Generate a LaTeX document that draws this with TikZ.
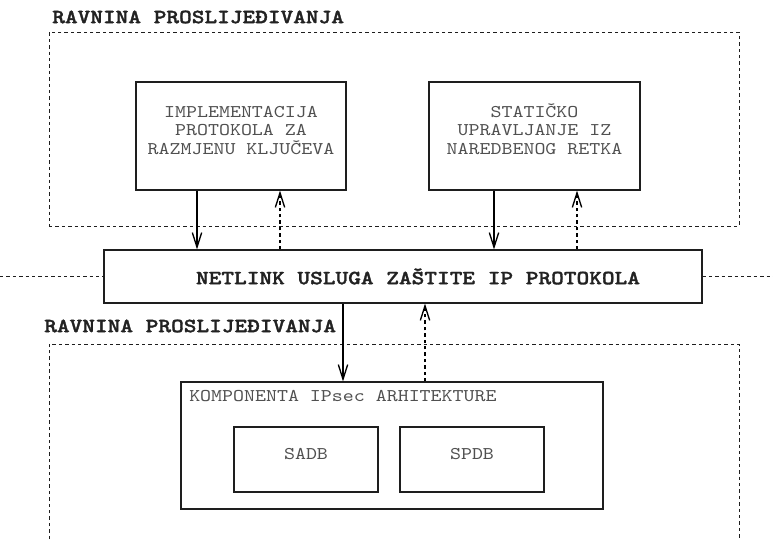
\documentclass[tikz,border=0pt]{standalone}
\usepackage{fontspec}
\newfontfamily\cour{lmmono10-regular}[Extension=.otf, FakeStretch=1.17]
\newfontfamily\courbf{lmmonolt10-bold}[Extension=.otf, FakeStretch=1.2, FakeBold=1.6]
\usetikzlibrary{arrows.meta,fit}
\definecolor{txtgray}{HTML}{505050}
\definecolor{lblcol}{HTML}{222222}
\definecolor{edgecol}{HTML}{1E1E1E}
\tikzset{
  box/.style={draw=edgecol, line width=0.8pt, inner sep=0pt, align=center,
    font=\cour\fontsize{13.4}{13.9}\selectfont, text=txtgray},
  planebox/.style={draw=edgecol, line width=0.7pt, inner sep=0pt,
    dash pattern=on 2.6pt off 2.2pt},
  planeline/.style={draw=edgecol, line width=0.7pt, dash pattern=on 2.6pt off 2.2pt},
  boldlbl/.style={font=\courbf\fontsize{15.1}{16}\selectfont, text=lblcol, inner sep=0pt},
  plainlbl/.style={font=\cour\fontsize{13.4}{13.9}\selectfont, text=txtgray, inner sep=0pt},
  tipV/.tip={Straight Barb[length=11pt,width=7pt,line width=1pt]},
  sarrow/.style={draw=black, line width=0.8pt, -tipV},
  darrow/.style={draw=black, line width=0.8pt, -tipV, dash pattern=on 2.6pt off 2.2pt},
}
\begin{document}
\begin{tikzpicture}[x=0.75pt,y=-0.75pt]
\useasboundingbox (0,0) rectangle (773,539);
% labels
\node[boldlbl, anchor=west] (lbltop) at (52,17) {RAVNINA PROSLIJEĐIVANJA};
\node[boldlbl, anchor=west] (lblbot) at (44,326) {RAVNINA PROSLIJEĐIVANJA};
% upper plane
\node[planebox, fit={(49,32) (739,226)}] (upper) {};
\node[box, fit={(136,82) (346,190)}] (b1) {IMPLEMENTACIJA\\PROTOKOLA ZA\\RAZMJENU KLJUČEVA};
\node[box, fit={(429,82) (640,190)}] (b2) {STATIČKO\\UPRAVLJANJE IZ\\NAREDBENOG RETKA};
% netlink
\node[box, fit={(104,250) (702,303)}] (net) {};
\node[boldlbl] (netlbl) at (418,276.5) {NETLINK USLUGA ZAŠTITE IP PROTOKOLA};
\coordinate (lend) at (0,276.5);
\coordinate (rend) at (773,276.5);
\draw[planeline] (lend) -- (net.west);
\draw[planeline] (net.east) -- (rend);
% lower plane (open at bottom)
\coordinate (lp1) at (49,539);
\coordinate (lp2) at (49,344);
\coordinate (lp3) at (739,344);
\coordinate (lp4) at (739,539);
\draw[planeline] (lp1) -- (lp2) -- (lp3) -- (lp4);
\node[box, fit={(181,382) (603,509)}] (comp) {};
\node[plainlbl, anchor=west] (complbl) at (189,396) {KOMPONENTA IPsec ARHITEKTURE};
\node[box, fit={(234,427) (378,492)}] (sadb) {SADB};
\node[box, fit={(400,427) (544,492)}] (spdb) {SPDB};
% arrows upper
\draw[sarrow] (197,0 |- b1.south) -- (197,0 |- net.north);
\draw[darrow] (280,0 |- net.north) -- (280,0 |- b1.south);
\draw[sarrow] (494,0 |- b2.south) -- (494,0 |- net.north);
\draw[darrow] (577,0 |- net.north) -- (577,0 |- b2.south);
% arrows lower
\draw[sarrow] (343,0 |- net.south) -- (343,0 |- comp.north);
\draw[darrow] (425,0 |- comp.north) -- (425,0 |- net.south);
\end{tikzpicture}
\end{document}
